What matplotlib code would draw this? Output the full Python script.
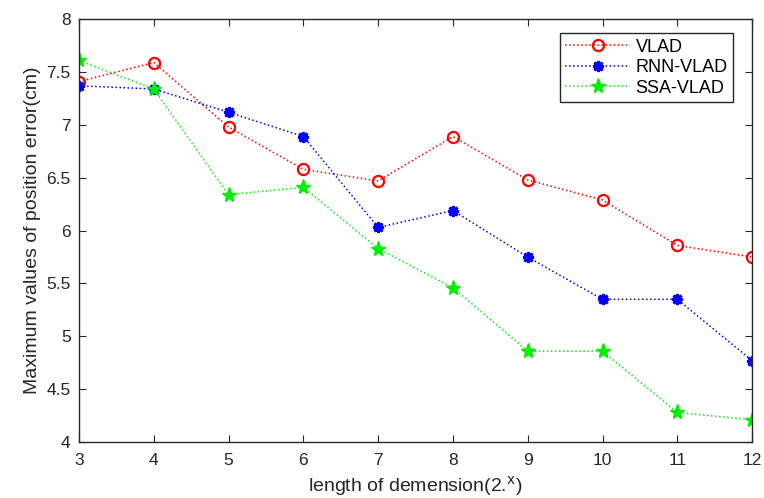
import numpy as np
import matplotlib.pyplot as plt

plt.rcParams['font.family'] = ['Liberation Sans', 'DejaVu Sans']

# Datos
dims = [3, 4, 5, 6, 7, 8, 9, 10, 11, 12]
vlad = [7.41, 7.59, 6.98, 6.58, 6.47, 6.89, 6.48, 6.29, 5.86, 5.75]
rnn_vlad = [7.37, 7.34, 7.12, 6.89, 6.03, 6.19, 5.75, 5.35, 5.35, 4.77]
ssa_vlad = [7.61, 7.34, 6.34, 6.41, 5.83, 5.46, 4.86, 4.86, 4.28, 4.21]

fig = plt.figure(figsize=(7.64, 4.98), dpi=100)
ax = fig.add_axes([0.1034, 0.1124, 0.881, 0.849])

ax.plot(dims, vlad, ':', color='red', marker='o', markersize=8,
        markerfacecolor='none', markeredgewidth=1.6, linewidth=1.1, label='VLAD')
ax.plot(dims, rnn_vlad, ':', color='blue', marker=(8, 2, 0), markersize=8,
        markeredgewidth=2.0, linewidth=1.1, label='RNN-VLAD')
ax.plot(dims, ssa_vlad, ':', color='#00ee00', marker='*', markersize=11,
        markeredgewidth=1, linewidth=1.1, label='SSA-VLAD')

ax.set_xlim(3, 12)
ax.set_ylim(4, 8)
ax.set_xticks(dims)
ax.set_yticks(np.arange(4, 8.01, 0.5))
ax.set_yticklabels(['4', '4.5', '5', '5.5', '6', '6.5', '7', '7.5', '8'])
ax.tick_params(direction='in', top=True, right=True, labelsize=12.5,
               labelcolor='#262626', length=5, color='#262626')
ax.tick_params(axis='x', pad=8)
ax.tick_params(axis='y', pad=6)
for s in ax.spines.values():
    s.set_linewidth(1.0)
    s.set_color('#262626')

ax.set_xlabel('length of demension(2.$^{\\mathrm{x}}$)', fontsize=14,
              color='#262626', labelpad=4)
ax.set_ylabel('Maximum values of position error(cm)', fontsize=14,
              color='#262626', labelpad=4)

ax.legend(loc='upper right', bbox_to_anchor=(0.9718, 0.967), borderaxespad=0,
          fontsize=13, frameon=True, fancybox=False, framealpha=1,
          edgecolor='#262626', handlelength=3.6, handletextpad=0.3,
          labelspacing=0.2, borderpad=0.3)

plt.savefig('out.png', dpi=100)
